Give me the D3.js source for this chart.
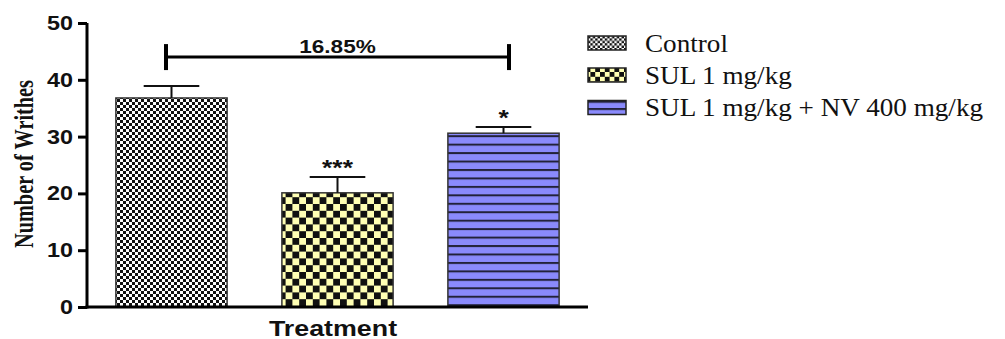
<!DOCTYPE html>
<html>
<head>
<meta charset="utf-8">
<script src="https://cdn.jsdelivr.net/npm/d3@7"></script>
<style>
  html, body { margin: 0; padding: 0; background: #fff; }
  svg { display: block; }
</style>
</head>
<body>
<svg id="chart" width="1005" height="339"></svg>
<script>
// Writhing test: mean number of writhes per group with SEM
const groups = ["Control", "SUL 1 mg/kg", "SUL 1 mg/kg + NV 400 mg/kg"];
const means = [36.8, 20.1, 30.6];
const sems = [2.1, 2.8, 1.1];
const stars = ["", "***", "*"];
const yTicks = [0, 10, 20, 30, 40, 50];
const bracketLabel = "16.85%";
const bracketLevel = 44;
const yTitle = "Number of Writhes";
const xTitle = "Treatment";

const svg = d3.select("#chart");
const defs = svg.append("defs");

// fill patterns
function checker(id, cell, bg, fg) {
  const p = defs.append("pattern").attr("id", id)
    .attr("patternUnits", "userSpaceOnUse")
    .attr("width", cell * 2).attr("height", cell * 2);
  p.append("rect").attr("width", cell * 2).attr("height", cell * 2).attr("fill", bg);
  p.append("rect").attr("width", cell).attr("height", cell).attr("fill", fg);
  p.append("rect").attr("x", cell).attr("y", cell).attr("width", cell).attr("height", cell).attr("fill", fg);
}
function stripes(id, gap, bg, fg, lw) {
  const p = defs.append("pattern").attr("id", id)
    .attr("patternUnits", "userSpaceOnUse")
    .attr("width", 10).attr("height", gap);
  p.append("rect").attr("width", 10).attr("height", gap).attr("fill", bg);
  p.append("rect").attr("y", 0).attr("width", 10).attr("height", lw).attr("fill", fg);
}
checker("pCtrl", 3, "#ffffff", "#111111");
checker("pSul", 6.8, "#ffffb4", "#111111");
stripes("pNv", 8.45, "#8a8afc", "#22223a", 2);
checker("lCtrl", 2.4, "#ffffff", "#111111");
checker("lSul", 4.8, "#ffffb4", "#111111");
stripes("lNv", 7.2, "#8a8afc", "#22223a", 2);
const fills = ["url(#pCtrl)", "url(#pSul)", "url(#pNv)"];
const legendFills = ["url(#lCtrl)", "url(#lSul)", "url(#lNv)"];

const x = d3.scaleBand().domain(groups).range([87, 588])
  .paddingInner(0.33).paddingOuter(0.174);
const y = d3.scaleLinear().domain([0, 50]).range([307, 23]);

// stretched text helper
function stext(parent, px, py, txt, sx, anchor, font, size, weight) {
  return parent.append("text")
    .attr("transform", `translate(${px},${py}) scale(${sx},1)`)
    .attr("text-anchor", anchor)
    .attr("font-family", font)
    .attr("font-size", size)
    .attr("font-weight", weight)
    .attr("fill", "#111")
    .text(txt);
}

// bars
const data = groups.map((g, i) => ({ g, m: means[i], e: sems[i], s: stars[i], f: fills[i] }));
svg.append("g").selectAll("rect").data(data).join("rect")
  .attr("x", d => x(d.g))
  .attr("y", d => y(d.m))
  .attr("width", x.bandwidth())
  .attr("height", d => y(0) - y(d.m))
  .attr("fill", d => d.f)
  .attr("stroke", "#333")
  .attr("stroke-width", 1.5);

// error bars
const eb = svg.append("g").attr("stroke", "#111").attr("stroke-width", 2);
data.forEach(d => {
  const cx = x(d.g) + x.bandwidth() / 2;
  const hw = x.bandwidth() / 4;
  eb.append("line").attr("x1", cx).attr("x2", cx).attr("y1", y(d.m)).attr("y2", y(d.m + d.e));
  eb.append("line").attr("x1", cx - hw).attr("x2", cx + hw).attr("y1", y(d.m + d.e)).attr("y2", y(d.m + d.e));
  if (d.s) stext(svg, cx, y(d.m + d.e) - 1.5, d.s, 1.2, "middle", "Liberation Sans, Arial, sans-serif", 22, "bold");
});

// y axis
const yAxis = svg.append("g").attr("transform", "translate(87,0)")
  .call(d3.axisLeft(y).tickValues(yTicks).tickSize(9).tickPadding(5).tickFormat(d3.format("d")));
yAxis.select(".domain").attr("stroke", "#000").attr("stroke-width", 3).attr("d", `M0,${y(50)}V${y(0) + 1.5}`);
yAxis.selectAll(".tick line").attr("stroke", "#000").attr("stroke-width", 3);
yAxis.selectAll(".tick text").remove();
yTicks.forEach(t => stext(svg, 73, y(t) + 7, String(t), 1.2, "end", "Liberation Sans, Arial, sans-serif", 19.5, "bold"));

// x axis baseline
const xAxis = svg.append("g").attr("transform", `translate(0,${y(0)})`)
  .call(d3.axisBottom(x).tickSize(0).tickFormat(""));
xAxis.select(".domain").attr("stroke", "#000").attr("stroke-width", 3).attr("d", "M85.5,0H588");

// axis titles
stext(svg, 333, 335.5, xTitle, 1.22, "middle", "Liberation Sans, Arial, sans-serif", 22, "bold");
svg.append("text")
  .attr("transform", `translate(32.5,164) scale(1.35,1) rotate(-90)`)
  .attr("text-anchor", "middle")
  .attr("font-family", "Liberation Serif, Times New Roman, serif")
  .attr("font-weight", "bold")
  .attr("font-size", 21)
  .attr("textLength", 168)
  .attr("lengthAdjust", "spacingAndGlyphs")
  .attr("fill", "#111")
  .text(yTitle);

// comparison bracket
const bl = x(groups[0]) + x.bandwidth() / 2 - 5.5;
const br = x(groups[2]) + x.bandwidth() / 2 + 5.5;
const by = y(bracketLevel);
const bg = svg.append("g").attr("stroke", "#000");
bg.append("line").attr("x1", bl).attr("x2", br).attr("y1", by).attr("y2", by).attr("stroke-width", 3);
bg.append("line").attr("x1", bl).attr("x2", bl).attr("y1", by - 13).attr("y2", by + 13).attr("stroke-width", 4);
bg.append("line").attr("x1", br).attr("x2", br).attr("y1", by - 13).attr("y2", by + 13).attr("stroke-width", 4);
stext(svg, (bl + br) / 2, by - 4, bracketLabel, 1.22, "middle", "Liberation Sans, Arial, sans-serif", 18.5, "bold");

// legend
const lg = svg.append("g");
const rowY = [43, 75, 107.5];
groups.forEach((g, i) => {
  lg.append("rect").attr("x", 588).attr("y", rowY[i] - 7).attr("width", 38).attr("height", 14)
    .attr("fill", legendFills[i]).attr("stroke", "#222").attr("stroke-width", 1.5);
  stext(lg, 645, rowY[i] + 8.5, g, 1.065, "start", "Liberation Serif, Times New Roman, serif", 25.5, "normal");
});
</script>
</body>
</html>
